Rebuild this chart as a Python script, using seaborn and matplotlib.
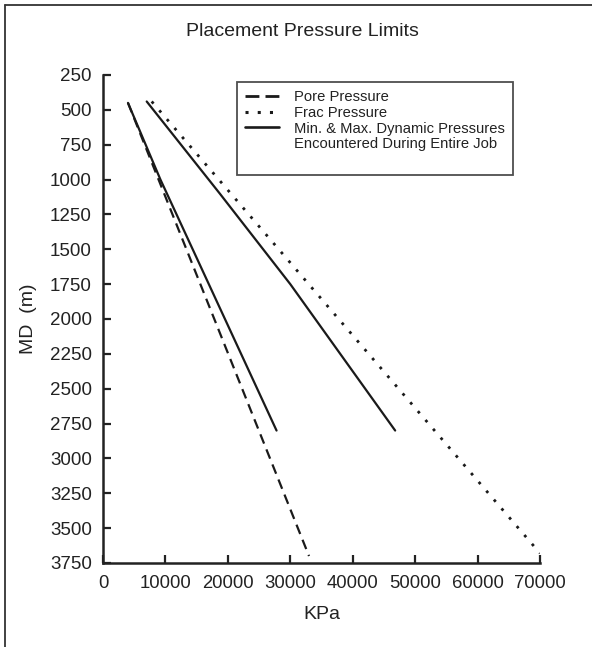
import matplotlib
matplotlib.use('Agg')
import matplotlib.pyplot as plt
import seaborn as sns
from matplotlib.lines import Line2D

pore_kpa = [4000, 8900, 33000]
pore_md = [450, 1000, 3700]

frac_kpa = [7800, 70000]
frac_md = [440, 3680]

min_dyn_kpa = [4000, 9200, 27800]
min_dyn_md = [450, 1000, 2800]

max_dyn_kpa = [7000, 18700, 30000, 46800]
max_dyn_md = [440, 1100, 1750, 2800]

x_ticks = [0, 10000, 20000, 30000, 40000, 50000, 60000, 70000]
y_ticks = [250, 500, 750, 1000, 1250, 1500, 1750, 2000, 2250, 2500, 2750, 3000, 3250, 3500, 3750]

sns.set_theme(style='white')
plt.rcParams['font.family'] = ['Liberation Sans', 'DejaVu Sans']

ink = '#222222'
fig = plt.figure(figsize=(5.92, 6.47), dpi=100)
ax = fig.add_axes([103 / 592, 1 - 563 / 647, 437 / 592, 488 / 647])

lw = 1.6
sns.lineplot(x=pore_kpa, y=pore_md, orient='y', ax=ax, color='#1a1a1a',
             lw=lw, linestyle=(0, (4.5, 2.8)))
sns.lineplot(x=frac_kpa, y=frac_md, orient='y', ax=ax, color='#1a1a1a',
             lw=lw + 0.4, linestyle=(0, (1.0, 3.2)))
sns.lineplot(x=min_dyn_kpa, y=min_dyn_md, orient='y', ax=ax, color='#1a1a1a', lw=lw)
sns.lineplot(x=max_dyn_kpa, y=max_dyn_md, orient='y', ax=ax, color='#1a1a1a', lw=lw)

ax.set_xlim(0, 70000)
ax.set_ylim(3750, 250)
ax.set_xticks(x_ticks)
ax.set_yticks(y_ticks)
ax.set_xticklabels([str(v) for v in x_ticks], fontsize=13.3, color=ink)
ax.set_yticklabels([str(v) for v in y_ticks], fontsize=13.5, color=ink)
ax.tick_params(axis='both', direction='in', length=6, width=1.6, color=ink,
               bottom=True, left=True)
ax.tick_params(axis='y', pad=8)
ax.tick_params(axis='x', pad=9)

for side in ['top', 'right']:
    ax.spines[side].set_visible(False)
for side in ['left', 'bottom']:
    ax.spines[side].set_linewidth(1.8)
    ax.spines[side].set_color(ink)

ax.set_xlabel('KPa', fontsize=14, color=ink, labelpad=10)
ax.set_ylabel('MD  (m)', fontsize=14, color=ink, labelpad=9)
fig.text(302 / 592, 1 - 32 / 647, 'Placement Pressure Limits', ha='center', va='center',
         fontsize=14, color=ink)

handles = [
    Line2D([], [], color='#1a1a1a', lw=lw + 0.4, linestyle=(0, (5.0, 2.2))),
    Line2D([], [], color='#1a1a1a', lw=lw + 0.6, linestyle=(0, (1.0, 3.0))),
    Line2D([], [], color='#1a1a1a', lw=lw + 0.3),
    Line2D([], [], color='none'),
    Line2D([], [], color='none'),
]
labels = ['Pore Pressure', 'Frac Pressure', 'Min. & Max. Dynamic Pressures',
          'Encountered During Entire Job', '']
leg = ax.legend(handles, labels, loc='upper left',
                bbox_to_anchor=((237 - 103) / 437, (563 - 82) / 488),
                frameon=True, fancybox=False, edgecolor=ink, fontsize=10.6,
                handlelength=2.3, handletextpad=1.0, labelspacing=0.12,
                borderpad=0.55, borderaxespad=0)
leg.get_frame().set_linewidth(1.3)
for t in leg.get_texts():
    t.set_color(ink)

# scanned page border (left and top edges)
fig.add_artist(Line2D([5 / 592, 5 / 592], [0, 1 - 5 / 647], color='#333333', lw=1.3))
fig.add_artist(Line2D([5 / 592, 1], [1 - 5 / 647, 1 - 5 / 647], color='#333333', lw=1.3))

fig.savefig('out.png', dpi=100)
